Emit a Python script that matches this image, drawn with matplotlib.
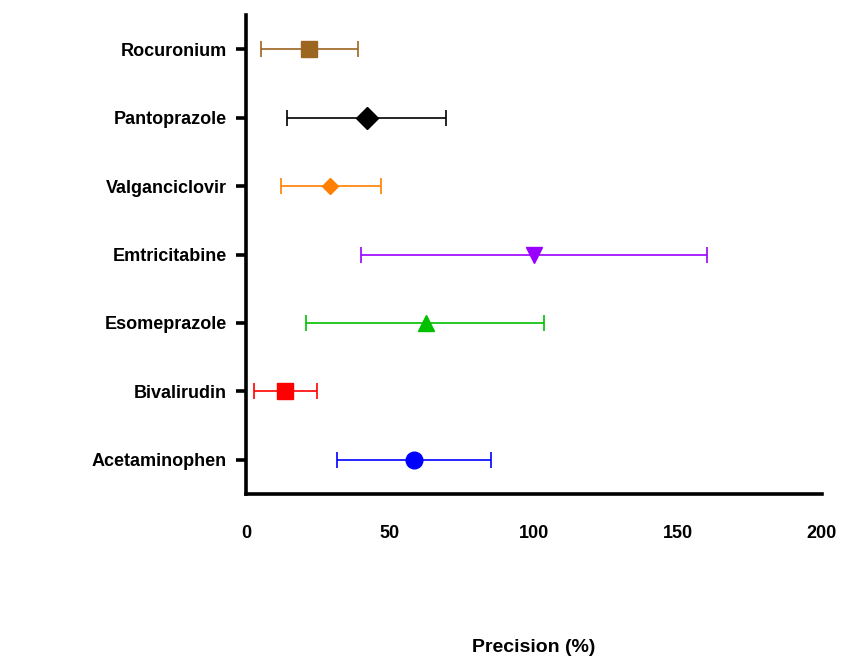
import matplotlib
matplotlib.use("Agg")
from matplotlib import pyplot as plt

# Datos (de abajo hacia arriba)
drugs = ["Acetaminophen", "Bivalirudin", "Esomeprazole", "Emtricitabine",
         "Valganciclovir", "Pantoprazole", "Rocuronium"]
precision = [58.3, 13.5, 62.5, 100.0, 29.2, 42.0, 21.9]
lower = [31.6, 2.8, 20.8, 39.9, 12.2, 14.2, 5.2]
upper = [85.1, 24.7, 103.5, 160.0, 46.9, 69.4, 38.9]
x_ticks = [0, 50, 100, 150, 200]

colors = ["#0000FF", "#FF0000", "#00C000", "#9900FF", "#FF8000", "#000000", "#9C6520"]
markers = ["o", "s", "^", "v", "D", "D", "s"]
sizes = [12, 12, 12, 12, 8.5, 11, 12]

plt.rcParams["font.family"] = ["Liberation Sans", "DejaVu Sans"]
plt.rcParams["font.weight"] = "bold"

fig = plt.figure(figsize=(8.43, 6.58), dpi=100)
ax = fig.add_axes([0.2918, 0.2492, 0.6832, 0.728])

for i, name in enumerate(drugs):
    err = [[precision[i] - lower[i]], [upper[i] - precision[i]]]
    ax.errorbar(precision[i], i, xerr=err, fmt=markers[i], color=colors[i],
                markersize=sizes[i], elinewidth=1.2, capsize=6, capthick=1.2)

ax.set_xlim(0, 200)
ax.set_ylim(-0.5, 6.5)
ax.set_xticks(x_ticks)
ax.set_yticks(range(len(drugs)))
ax.set_yticklabels(drugs)

for side in ["top", "right"]:
    ax.spines[side].set_visible(False)
for side in ["left", "bottom"]:
    ax.spines[side].set_linewidth(2.6)

ax.tick_params(axis="y", length=7, width=2.6, pad=7, labelsize=13)
ax.tick_params(axis="x", length=0, pad=22, labelsize=13)
for lab in ax.get_xticklabels() + ax.get_yticklabels():
    lab.set_fontweight("bold")

ax.set_xlabel("Precision (%)", fontsize=14, fontweight="bold", labelpad=70)

fig.savefig("out.png", dpi=100)
